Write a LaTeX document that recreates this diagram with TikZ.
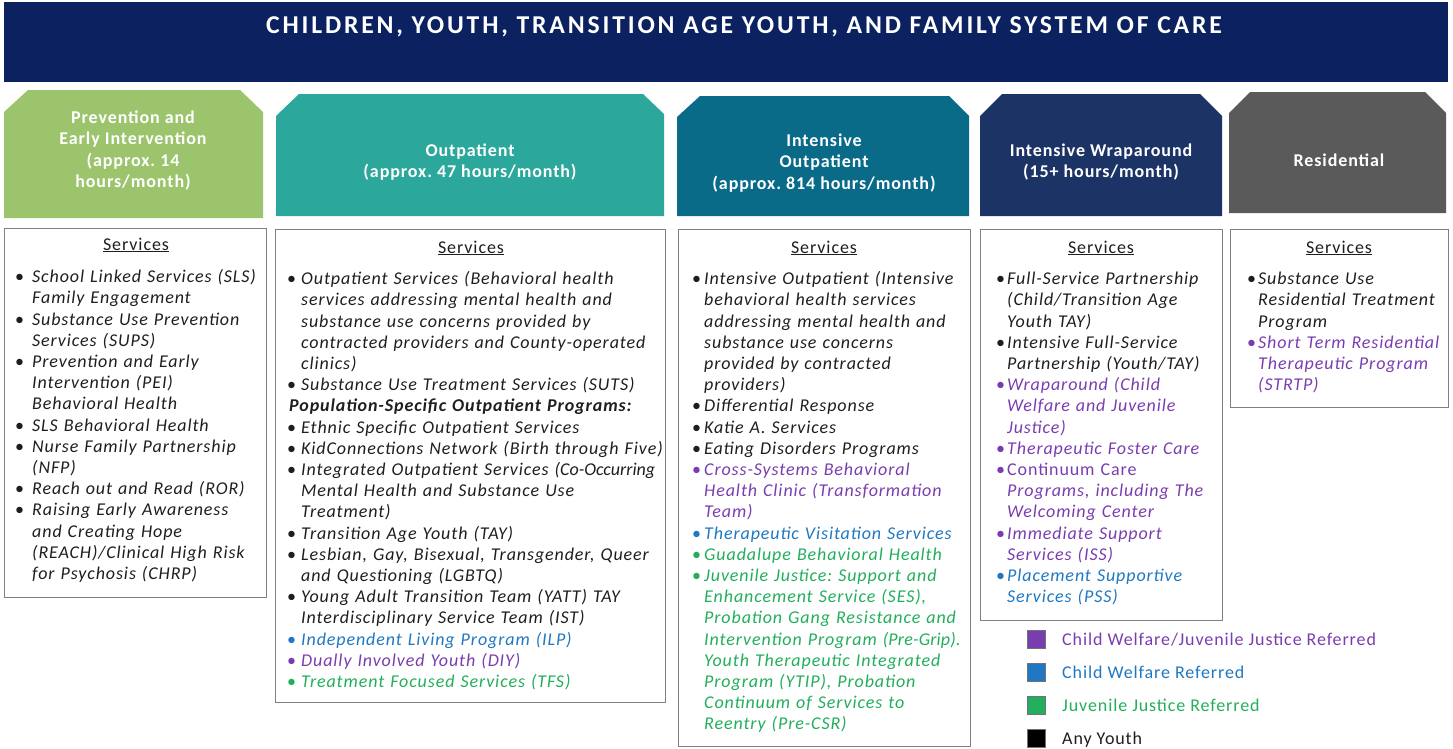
\documentclass[tikz,border=0pt]{standalone}
\usepackage{fontspec}
\setmainfont{Carlito}[LetterSpace=5]
\newfontfamily\titlefamily{Carlito}[LetterSpace=11]
\definecolor{titlenavy}{HTML}{0C2160}
\definecolor{pgreen}{HTML}{9BC46C}
\definecolor{pteal}{HTML}{2BA89B}
\definecolor{pdteal}{HTML}{0A6B89}
\definecolor{pnavy}{HTML}{1C3366}
\definecolor{pgray}{HTML}{5A5A5A}
\definecolor{cwjj}{HTML}{7A3DB0}
\definecolor{cw}{HTML}{1F78C1}
\definecolor{jj}{HTML}{22AE5C}
\definecolor{txt}{HTML}{1E1E1E}
\definecolor{boxline}{HTML}{808080}
\frenchspacing
\newlength\bi
\newcommand\nl{\unskip\nobreak\hfil\break}
\newcommand\bitem[2]{\par\hangindent=\bi\hangafter=1\noindent\strut\makebox[\bi][l]{\color{#1}\textbullet}{\color{#1}\itshape #2}}
\newcommand\listfont{\fontsize{18}{21.2}\selectfont}
\tikzset{
  hdrtext/.style={text=white, font=\bfseries\fontsize{18}{21.3}\selectfont, align=center, inner sep=0pt},
  svcbox/.style={draw=boxline, line width=1.4pt, anchor=north west, inner sep=0pt},
  svclabel/.style={anchor=base, text=txt, font=\fontsize{18}{21}\selectfont, inner sep=0pt},
  svclist/.style={anchor=north west, text width=420pt, inner sep=0pt, text=txt, font=\listfont},
  legsq/.style={draw=black!55, line width=0.8pt, minimum size=18pt, inner sep=0pt},
  legtext/.style={anchor=base west, font=\fontsize{18}{21}\selectfont, inner sep=0pt}
}
\begin{document}
\begin{tikzpicture}[x=1pt,y=-1pt]
\useasboundingbox (0,0) rectangle (1453,748);
% title
\node[fill=titlenavy, minimum width=1444pt, minimum height=80pt, anchor=north west, inner sep=0pt] (title) at (4,2) {};
\node[anchor=base, text=white, font=\titlefamily\bfseries\fontsize{25.7}{28}\selectfont, inner sep=0pt] (titletext) at (744,33) {CHILDREN, YOUTH, TRANSITION AGE YOUTH, AND FAMILY SYSTEM OF CARE};
% headers
\fill[pgreen] (4,218) -- (4,112) -- (28,90) -- (240,90) -- (263,112) -- (263,218) -- cycle;
\fill[pteal] (276,216) -- (276,116) -- (299,94) -- (643,94) -- (664,114) -- (664,216) -- cycle;
\fill[pdteal] (677,216) -- (677,117) -- (700,96) -- (949,96) -- (969,116) -- (969,216) -- cycle;
\fill[pnavy] (980,216) -- (980,116) -- (1002,94) -- (1200,94) -- (1222,116) -- (1222,216) -- cycle;
\fill[pgray] (1229,213) -- (1229,113) -- (1250,92) -- (1425,92) -- (1446,113) -- (1446,213) -- cycle;
\node[hdrtext] (h1) at (133,150.5) {Prevention and\\Early Intervention\\(approx. 14\\hours/month)};
\node[hdrtext] (h2) at (470,162) {Outpatient\\(approx. 47 hours/month)};
\node[hdrtext] (h3) at (824,163) {Intensive\\Outpatient\\(approx. 814 hours/month)};
\node[hdrtext] (h4) at (1101,162) {Intensive Wraparound\\(15+ hours/month)};
\node[hdrtext] (h5) at (1339,160) {Residential};
% service boxes
\node[svcbox, minimum width=262pt, minimum height=369pt] (b1) at (4,228) {};
\node[svcbox, minimum width=390pt, minimum height=473pt] (b2) at (275,229) {};
\node[svcbox, minimum width=292pt, minimum height=517pt] (b3) at (678,229) {};
\node[svcbox, minimum width=242pt, minimum height=391pt] (b4) at (980,229) {};
\node[svcbox, minimum width=218pt, minimum height=178pt] (b5) at (1230,229) {};
\node[svclabel] (s1) at (136,250) {\underline{Services}};
\node[svclabel] (s2) at (471,253) {\underline{Services}};
\node[svclabel] (s3) at (824,253) {\underline{Services}};
\node[svclabel] (s4) at (1101,253) {\underline{Services}};
\node[svclabel] (s5) at (1339,253) {\underline{Services}};
% lists
\node[svclist] (l1) at (15,261.2) {\setlength\bi{17pt}%
\bitem{txt}{School Linked Services (SLS)\nl Family Engagement}
\bitem{txt}{Substance Use Prevention\nl Services (SUPS)}
\bitem{txt}{Prevention and Early\nl Intervention (PEI)\nl Behavioral Health}
\bitem{txt}{SLS Behavioral Health}
\bitem{txt}{Nurse Family Partnership\nl (NFP)}
\bitem{txt}{Reach out and Read (ROR)}
\bitem{txt}{Raising Early Awareness\nl and Creating Hope\nl (REACH)/Clinical High Risk\nl for Psychosis (CHRP)}\par};
\node[svclist] (l2) at (287,263.2) {\setlength\bi{14pt}%
\bitem{txt}{Outpatient Services (Behavioral health\nl services addressing mental health and\nl substance use concerns provided by\nl contracted providers and County-operated\nl clinics)}
\bitem{txt}{Substance Use Treatment Services (SUTS)}
\par\noindent\strut\hspace{2pt}\textbf{\itshape Population-Specific Outpatient Programs:}
\bitem{txt}{Ethnic Specific Outpatient Services}
\bitem{txt}{KidConnections Network (Birth through Five)}
\bitem{txt}{Integrated Outpatient Services {\addfontfeature{LetterSpace=0}(Co-Occurring}\nl Mental Health and Substance Use\nl Treatment)}
\bitem{txt}{Transition Age Youth (TAY)}
\bitem{txt}{Lesbian, Gay, Bisexual, Transgender, Queer\nl and Questioning (LGBTQ)}
\bitem{txt}{Young Adult Transition Team (YATT) TAY\nl Interdisciplinary Service Team (IST)}
\bitem{cw}{Independent Living Program (ILP)}
\bitem{cwjj}{Dually Involved Youth (DIY)}
\bitem{jj}{Treatment Focused Services (TFS)}\par};
\node[svclist] (l3) at (692,263.2) {\setlength\bi{12pt}%
\bitem{txt}{Intensive Outpatient (Intensive\nl behavioral health services\nl addressing mental health and\nl substance use concerns\nl provided by contracted\nl providers)}
\bitem{txt}{Differential Response}
\bitem{txt}{Katie A. Services}
\bitem{txt}{Eating Disorders Programs}
\bitem{cwjj}{Cross-Systems Behavioral\nl Health Clinic (Transformation\nl Team)}
\bitem{cw}{Therapeutic Visitation Services}
\bitem{jj}{Guadalupe Behavioral Health}
\bitem{jj}{Juvenile Justice: Support and\nl Enhancement Service (SES),\nl Probation Gang Resistance and\nl Intervention Program {\addfontfeature{LetterSpace=1}(Pre-Grip).}\nl Youth Therapeutic Integrated\nl Program (YTIP), Probation\nl Continuum of Services to\nl Reentry (Pre-CSR)}\par};
\node[svclist] (l4) at (996,263.2) {\setlength\bi{11pt}%
\bitem{txt}{Full-Service Partnership\nl (Child/Transition Age\nl Youth TAY)}
\bitem{txt}{Intensive Full-Service\nl Partnership (Youth/TAY)}
\bitem{cwjj}{Wraparound (Child\nl Welfare and Juvenile\nl Justice)}
\bitem{cwjj}{Therapeutic Foster Care}
\bitem{cwjj}{\upshape Continuum Care\nl \itshape Programs, including The\nl Welcoming Center}
\bitem{cwjj}{Immediate Support\nl Services (ISS)}
\bitem{cw}{Placement Supportive\nl Services (PSS)}\par};
\node[svclist] (l5) at (1247,263.2) {\setlength\bi{11pt}%
\bitem{txt}{Substance Use\nl Residential Treatment\nl Program}
\bitem{cwjj}{Short Term Residential\nl Therapeutic Program\nl (STRTP)}\par};
% legend
\node[legsq, fill=cwjj] (q1) at (1036,639) {};
\node[legsq, fill=cw] (q2) at (1036,672) {};
\node[legsq, fill=jj] (q3) at (1036,705) {};
\node[legsq, fill=black] (q4) at (1036,738) {};
\node[legtext, text=cwjj] (t1) at (1062,645) {Child Welfare/Juvenile Justice Referred};
\node[legtext, text=cw] (t2) at (1062,678) {Child Welfare Referred};
\node[legtext, text=jj] (t3) at (1062,711) {Juvenile Justice Referred};
\node[legtext, text=txt] (t4) at (1062,744) {Any Youth};
\end{tikzpicture}
\end{document}
